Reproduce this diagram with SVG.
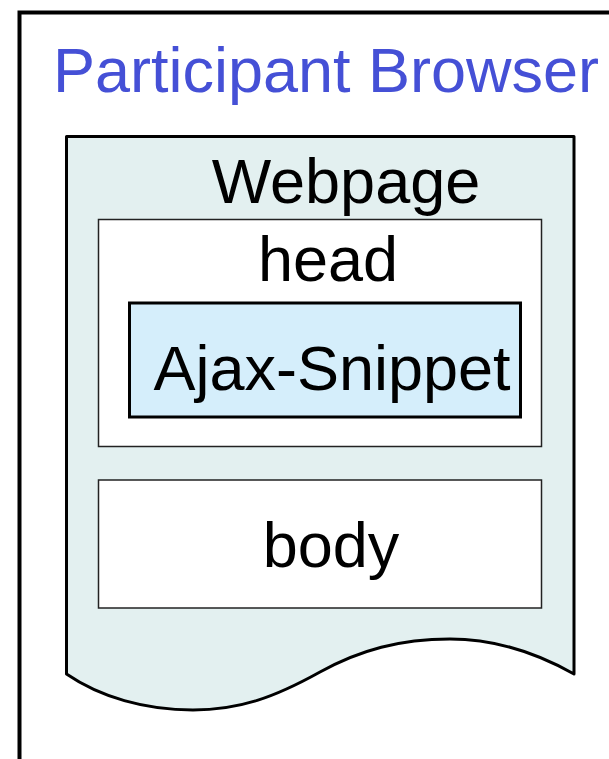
<svg xmlns="http://www.w3.org/2000/svg" width="609" height="759" viewBox="0 0 609 759">
  <style>
    text { font-family: "Liberation Sans", Arial, sans-serif; font-size: 63px; text-anchor: middle; fill: #000; }
    .title { fill: #4550D6; }
    .frame { fill: #fff; stroke: #000; stroke-width: 4; }
    .page { fill: #E3F0F0; stroke: #000; stroke-width: 3; stroke-linejoin: round; }
    .section { fill: #fff; stroke: #222; stroke-width: 1.5; }
    .snippet { fill: #D5EEFB; stroke: #000; stroke-width: 3; }
  </style>

  <g id="browser">
    <rect class="frame" x="19.5" y="12.5" width="700" height="800"/>
    <text class="title" x="326" y="92">Participant Browser</text>
  </g>

  <g id="webpage">
    <path class="page" d="M66.5,136.5 H574 V674 C535,652 495,639 450,639 C400,639 360,650 320,672 C275,697 240,710 193,710 C145,710 100,697 66.5,674 Z"/>
    <text x="346" y="203">Webpage</text>
  </g>

  <g id="head">
    <rect class="section" x="98.5" y="219.5" width="443" height="227"/>
    <text x="328" y="281">head</text>
  </g>

  <g id="ajax-snippet">
    <rect class="snippet" x="129.5" y="303" width="391" height="114"/>
    <text x="332" y="390">Ajax-Snippet</text>
  </g>

  <g id="body">
    <rect class="section" x="98.5" y="480" width="443" height="128"/>
    <text x="331" y="567">body</text>
  </g>

  <g id="connectors"/>
</svg>
